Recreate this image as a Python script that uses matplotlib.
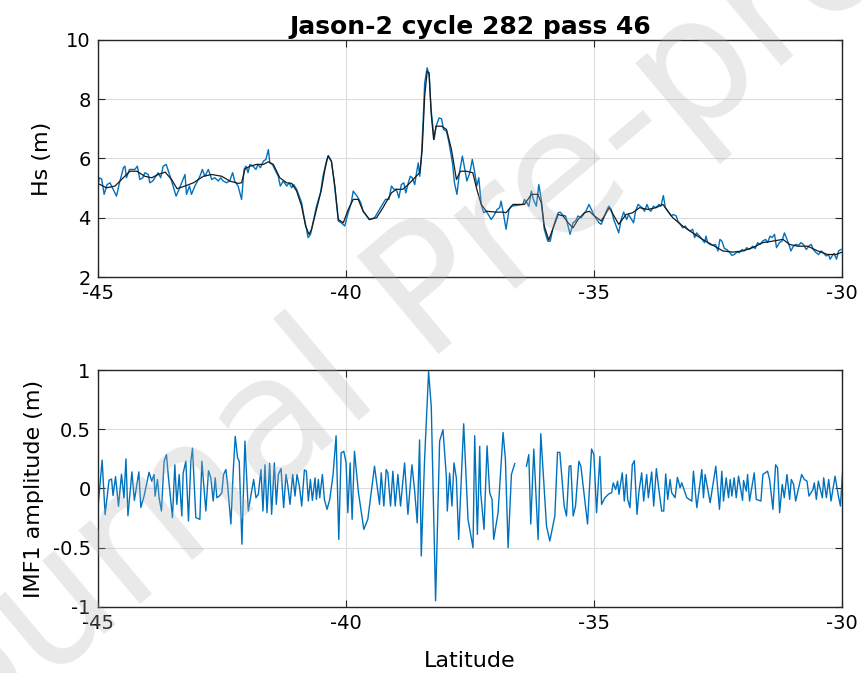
import matplotlib
matplotlib.use("Agg")
import matplotlib.pyplot as plt
import numpy as np

# Hs, raw along-track (blue)
hs_lat = [-45.00, -44.97, -44.92, -44.87, -44.81, -44.75, -44.72, -44.62, -44.56, -44.48,
          -44.45, -44.42, -44.36, -44.25, -44.20, -44.15, -44.09, -44.05, -43.98, -43.95,
          -43.89, -43.78, -43.73, -43.68, -43.62, -43.53, -43.48, -43.42, -43.36, -43.24,
          -43.21, -43.15, -43.11, -43.04, -42.94, -42.89, -42.84, -42.77, -42.70, -42.64,
          -42.57, -42.52, -42.47, -42.40, -42.34, -42.28, -42.24, -42.17, -42.10, -42.05,
          -42.01, -41.97, -41.93, -41.87, -41.81, -41.77, -41.72, -41.66, -41.61, -41.56,
          -41.53, -41.48, -41.43, -41.36, -41.32, -41.26, -41.19, -41.14, -41.09, -41.05,
          -40.99, -40.94, -40.89, -40.85, -40.79, -40.76, -40.71, -40.66, -40.59, -40.51,
          -40.46, -40.39, -40.35, -40.29, -40.24, -40.19, -40.15, -40.09, -40.02, -39.97,
          -39.89, -39.85, -39.80, -39.75, -39.70, -39.65, -39.60, -39.53, -39.42, -39.32,
          -39.26, -39.20, -39.13, -39.08, -39.03, -38.98, -38.93, -38.88, -38.83, -38.79,
          -38.74, -38.70, -38.66, -38.61, -38.58, -38.54, -38.51, -38.48, -38.44, -38.41,
          -38.36, -38.32, -38.28, -38.22, -38.18, -38.12, -38.07, -38.03, -37.97, -37.92,
          -37.85, -37.81, -37.76, -37.71, -37.65, -37.60, -37.56, -37.50, -37.45, -37.40,
          -37.36, -37.32, -37.27, -37.22, -37.17, -37.11, -37.07, -37.02, -36.95, -36.90,
          -36.87, -36.82, -36.77, -36.71, -36.66, -36.43, -36.40, -36.35, -36.31, -36.26,
          -36.22, -36.16, -36.11, -36.06, -36.00, -35.93, -35.88, -35.83, -35.77, -35.72,
          -35.68, -35.62, -35.57, -35.52, -35.48, -35.42, -35.37, -35.32, -35.26, -35.21,
          -35.16, -35.10, -35.05, -34.99, -34.92, -34.90, -34.85, -34.75, -34.70, -34.65,
          -34.60, -34.55, -34.50, -34.45, -34.40, -34.34, -34.30, -34.20, -34.16, -34.11,
          -34.03, -33.98, -33.93, -33.89, -33.85, -33.80, -33.75, -33.69, -33.65, -33.60,
          -33.56, -33.51, -33.44, -33.40, -33.34, -33.31, -33.26, -33.21, -33.16, -33.11,
          -33.06, -33.01, -32.97, -32.93, -32.87, -32.82, -32.77, -32.74, -32.71, -32.66,
          -32.60, -32.55, -32.50, -32.46, -32.42, -32.37, -32.32, -32.27, -32.22, -32.17,
          -32.12, -32.07, -32.01, -31.97, -31.92, -31.87, -31.80, -31.75, -31.70, -31.65,
          -31.60, -31.54, -31.50, -31.45, -31.41, -31.36, -31.32, -31.26, -31.21, -31.16,
          -31.11, -31.07, -31.03, -30.98, -30.93, -30.87, -30.83, -30.78, -30.72, -30.67,
          -30.62, -30.58, -30.52, -30.47, -30.42, -30.38, -30.32, -30.27, -30.24, -30.20,
          -30.16, -30.11, -30.07, -30.02]
hs_raw = [4.98, 5.35, 5.31, 4.79, 5.12, 5.18, 5.07, 4.73, 5.18, 5.69,
          5.74, 5.35, 5.63, 5.63, 5.74, 5.29, 5.35, 5.52, 5.46, 5.18,
          5.24, 5.52, 5.35, 5.74, 5.80, 5.35, 5.07, 4.73, 4.96, 5.46,
          4.79, 5.07, 4.79, 5.07, 5.40, 5.63, 5.40, 5.63, 5.29, 5.35,
          5.24, 5.35, 5.24, 5.18, 5.24, 5.52, 5.24, 5.07, 4.62, 5.63,
          5.74, 5.52, 5.80, 5.74, 5.63, 5.80, 5.69, 5.91, 5.97, 6.30,
          5.85, 5.80, 5.63, 5.40, 5.07, 5.24, 5.07, 5.18, 5.01, 5.12,
          4.96, 4.73, 4.51, 4.11, 3.61, 3.33, 3.44, 3.83, 4.39, 4.84,
          5.40, 5.91, 6.10, 5.91, 5.29, 4.51, 3.89, 3.83, 3.72, 4.06,
          4.51, 4.90, 4.79, 4.67, 4.51, 4.22, 4.11, 3.94, 4.00, 4.28,
          4.45, 4.62, 4.62, 5.07, 4.96, 4.96, 4.67, 5.12, 5.18, 4.84,
          5.18, 5.40, 5.35, 5.12, 5.46, 5.85, 5.40, 5.91, 7.31, 8.55,
          9.06, 8.78, 7.65, 6.64, 7.09, 7.37, 7.34, 6.98, 6.92, 6.53,
          5.85, 5.18, 4.79, 5.52, 6.08, 5.63, 5.24, 5.52, 5.97, 5.52,
          5.07, 5.35, 4.45, 4.17, 4.22, 4.06, 3.94, 4.06, 4.28, 4.34,
          4.56, 4.11, 3.61, 4.28, 4.39, 4.45, 4.62, 4.51, 4.39, 4.90,
          4.62, 4.39, 5.12, 4.62, 3.61, 3.21, 3.21, 3.61, 3.94, 4.17,
          4.19, 4.08, 4.06, 3.72, 3.44, 3.83, 3.89, 4.06, 4.00, 4.11,
          4.22, 4.45, 4.28, 4.06, 3.89, 3.83, 3.78, 4.22, 4.39, 4.28,
          3.94, 3.72, 3.49, 3.94, 4.19, 3.94, 4.11, 3.83, 4.22, 4.45,
          4.34, 4.22, 4.45, 4.28, 4.22, 4.39, 4.34, 4.45, 4.39, 4.75,
          4.34, 4.22, 4.06, 4.11, 4.06, 3.89, 3.78, 3.66, 3.72, 3.61,
          3.55, 3.61, 3.33, 3.49, 3.38, 3.27, 3.16, 3.38, 3.16, 3.10,
          3.07, 3.10, 2.88, 3.27, 3.21, 2.96, 2.93, 2.84, 2.73, 2.76,
          2.84, 2.82, 2.93, 2.88, 2.99, 2.93, 3.04, 2.96, 3.16, 3.10,
          3.21, 3.27, 3.16, 3.38, 3.33, 3.44, 2.99, 3.16, 3.21, 3.49,
          3.27, 3.10, 2.88, 3.04, 3.10, 3.07, 3.16, 3.10, 2.93, 3.04,
          3.10, 2.93, 2.82, 2.76, 2.88, 2.82, 2.71, 2.76, 2.60, 2.71,
          2.80, 2.60, 2.88, 2.93]

# Hs, denoised (black)
sm_lat = [-45.00, -44.82, -44.65, -44.52, -44.35, -44.21, -44.05, -43.91, -43.78, -43.64,
          -43.51, -43.40, -43.24, -43.07, -42.87, -42.70, -42.50, -42.34, -42.17, -42.10,
          -42.03, -41.93, -41.80, -41.66, -41.56, -41.46, -41.33, -41.19, -41.09, -40.99,
          -40.89, -40.81, -40.74, -40.69, -40.59, -40.49, -40.42, -40.36, -40.29, -40.22,
          -40.15, -40.05, -39.95, -39.85, -39.75, -39.65, -39.52, -39.38, -39.25, -39.08,
          -38.98, -38.85, -38.74, -38.61, -38.51, -38.46, -38.41, -38.36, -38.32, -38.28,
          -38.23, -38.18, -38.07, -37.97, -37.87, -37.77, -37.69, -37.57, -37.44, -37.36,
          -37.27, -37.17, -36.97, -36.83, -36.77, -36.63, -36.40, -36.26, -36.13, -36.06,
          -36.00, -35.91, -35.83, -35.72, -35.62, -35.52, -35.42, -35.32, -35.19, -35.09,
          -34.99, -34.85, -34.69, -34.50, -34.35, -34.22, -34.08, -33.91, -33.75, -33.61,
          -33.41, -33.21, -33.01, -32.81, -32.60, -32.40, -32.20, -32.00, -31.80, -31.60,
          -31.40, -31.19, -31.06, -30.89, -30.69, -30.49, -30.29, -30.12, -30.00]
hs_smooth = [5.16, 5.01, 5.07, 5.29, 5.57, 5.57, 5.40, 5.35, 5.46, 5.54,
             5.29, 4.98, 5.07, 5.18, 5.40, 5.46, 5.40, 5.24, 5.16, 5.18,
             5.65, 5.74, 5.80, 5.80, 5.89, 5.80, 5.35, 5.18, 5.16, 4.90,
             4.39, 3.72, 3.44, 3.61, 4.28, 4.96, 5.63, 6.08, 5.91, 5.07,
             3.94, 3.83, 4.28, 4.62, 4.62, 4.22, 3.94, 4.00, 4.34, 4.84,
             4.96, 4.96, 5.12, 5.35, 5.52, 6.30, 8.10, 8.94, 8.89, 7.54,
             6.64, 7.09, 7.09, 6.98, 6.30, 5.29, 5.57, 5.57, 5.52, 4.96,
             4.45, 4.22, 4.19, 4.19, 4.17, 4.45, 4.45, 4.79, 4.79, 4.51,
             3.72, 3.25, 3.61, 4.11, 4.06, 3.83, 3.66, 3.94, 4.17, 4.22,
             4.06, 3.89, 4.34, 3.78, 4.11, 4.17, 4.34, 4.28, 4.34, 4.45,
             4.00, 3.72, 3.49, 3.27, 3.07, 2.88, 2.84, 2.88, 2.99, 3.16,
             3.21, 3.27, 3.10, 3.04, 3.04, 2.88, 2.76, 2.76, 2.84]

# first intrinsic mode function (turning points), nan = data gap
imf_lat = [-45.000, -44.910, -44.850, -44.770, -44.720, -44.690, -44.640, -44.580, -44.520, -44.470,
           -44.430, -44.390, -44.310, -44.260, -44.170, -44.130, -44.065, -43.964, -43.910, -43.863,
           -43.843, -43.795, -43.762, -43.715, -43.661, -43.614, -43.573, -43.546, -43.493, -43.445,
           -43.405, -43.358, -43.304, -43.277, -43.223, -43.170, -43.122, -43.089, -43.022, -42.941,
           -42.900, -42.873, -42.820, -42.766, -42.719, -42.672, -42.631, -42.598, -42.550, -42.497,
           -42.463, -42.416, -42.382, -42.315, -42.268, -42.228, -42.180, -42.147, -42.093, -42.032,
           -41.965, -41.857, -41.810, -41.763, -41.709, -41.669, -41.628, -41.588, -41.534, -41.494,
           -41.440, -41.400, -41.359, -41.305, -41.252, -41.205, -41.171, -41.124, -41.070, -41.023,
           -40.983, -40.935, -40.888, -40.834, -40.794, -40.754, -40.713, -40.673, -40.619, -40.592,
           -40.552, -40.525, -40.471, -40.431, -40.377, -40.323, -40.256, -40.195, -40.141, -40.094,
           -40.040, -39.993, -39.959, -39.912, -39.872, -39.825, -39.744, -39.636, -39.556, -39.421,
           -39.320, -39.286, -39.233, -39.185, -39.152, -39.098, -39.051, -39.004, -38.950, -38.896,
           -38.815, -38.748, -38.667, -38.614, -38.560, -38.513, -38.479, -38.412, -38.331, -38.277,
           -38.190, -38.109, -38.041, -37.974, -37.954, -37.907, -37.860, -37.820, -37.772, -37.725,
           -37.624, -37.537, -37.436, -37.402, -37.348, -37.301, -37.281, -37.214, -37.153, -37.100,
           -37.052, -37.019, -36.931, -36.830, -36.783, -36.729, -36.662, -36.595, -36.480, -36.359,
           -36.312, -36.272, -36.211, -36.124, -36.070, -35.955, -35.888, -35.787, -35.733, -35.686,
           -35.599, -35.552, -35.498, -35.464, -35.417, -35.370, -35.303, -35.262, -35.128, -35.047,
           -35.000, -34.946, -34.879, -34.845, -34.778, -34.697, -34.643, -34.610, -34.562, -34.522,
           -34.495, -34.428, -34.387, -34.347, -34.320, -34.273, -34.226, -34.185, -34.131, -34.091,
           -34.037, -33.997, -33.936, -33.903, -33.835, -33.795, -33.741, -33.687, -33.634, -33.593,
           -33.553, -33.512, -33.465, -33.432, -33.364, -33.317, -33.263, -33.229, -33.128, -33.027,
           -32.994, -32.926, -32.825, -32.792, -32.758, -32.657, -32.543, -32.469, -32.422, -32.388,
           -32.334, -32.287, -32.253, -32.220, -32.173, -32.132, -32.085, -32.004, -31.984, -31.930,
           -31.903, -31.863, -31.769, -31.728, -31.634, -31.594, -31.500, -31.459, -31.392, -31.338,
           -31.298, -31.257, -31.204, -31.163, -31.109, -31.055, -31.022, -30.975, -30.934, -30.813,
           -30.759, -30.706, -30.665, -30.584, -30.558, -30.517, -30.477, -30.396, -30.369, -30.315,
           -30.268, -30.221, -30.140, -30.073, -30.032, -29.985]
imf_val = [-0.19, 0.24, -0.22, 0.07, 0.08, -0.06, 0.10, -0.15, 0.12, -0.08,
           0.25, -0.23, 0.14, -0.10, 0.14, -0.16, -0.064, 0.137, 0.062, 0.118,
           -0.064, 0.076, -0.078, -0.19, 0.23, 0.286, 0.09, -0.02, -0.246, 0.20,
           -0.134, 0.118, -0.232, 0.13, 0.23, -0.275, 0.23, 0.34, -0.246, -0.26,
           0.23, 0.09, -0.19, 0.15, 0.09, -0.106, 0.09, -0.078, -0.064, -0.036,
           0.118, 0.16, 0.034, -0.30, 0.146, 0.44, 0.258, 0.23, -0.47, 0.40,
           -0.19, 0.076, -0.078, -0.05, 0.16, -0.19, 0.20, -0.204, 0.213, -0.218,
           0.216, -0.134, 0.118, 0.168, -0.162, 0.118, 0.034, -0.134, 0.118, -0.064,
           0.118, 0.02, -0.148, 0.157, 0.146, -0.106, 0.076, -0.10, 0.09, -0.092,
           0.076, -0.078, 0.118, -0.092, -0.176, -0.092, 0.118, 0.445, -0.43, 0.30,
           0.314, 0.216, -0.204, 0.216, -0.26, 0.314, -0.036, -0.345, -0.26, 0.188,
           -0.134, 0.132, -0.148, 0.16, 0.132, -0.148, 0.146, -0.148, 0.118, -0.148,
           0.216, -0.218, 0.20, -0.01, -0.29, 0.41, -0.57, 0.244, 0.986, 0.69,
           -0.947, 0.40, 0.496, 0.104, -0.19, 0.13, -0.148, 0.216, 0.09, -0.43,
           0.546, -0.26, -0.50, 0.445, -0.387, 0.356, -0.036, -0.345, 0.36, -0.036,
           -0.092, -0.43, -0.204, 0.473, 0.244, -0.50, 0.118, 0.21, np.nan, 0.188,
           0.286, -0.30, 0.333, -0.43, 0.462, -0.317, -0.443, -0.232, 0.305, 0.305,
           -0.148, -0.232, 0.188, 0.193, -0.232, -0.148, 0.23, 0.188, -0.30, 0.333,
           0.286, -0.204, 0.27, -0.134, -0.078, -0.045, -0.036, 0.048, -0.008, 0.062,
           -0.05, 0.132, -0.106, 0.118, -0.092, -0.162, 0.20, 0.235, -0.218, -0.022,
           0.132, -0.106, 0.118, -0.078, 0.14, -0.148, 0.168, -0.022, -0.19, -0.19,
           0.123, -0.092, 0.076, -0.036, -0.078, 0.095, 0.006, 0.048, -0.078, -0.106,
           0.146, -0.162, 0.16, -0.078, 0.118, -0.12, 0.188, -0.176, 0.146, -0.106,
           0.09, -0.078, 0.076, -0.064, 0.09, -0.078, 0.104, -0.10, 0.067, -0.022,
           0.118, -0.106, 0.132, -0.092, -0.106, 0.118, 0.146, 0.076, -0.176, 0.20,
           0.174, -0.204, 0.034, -0.078, 0.118, -0.092, 0.076, 0.034, -0.106, 0.118,
           0.076, 0.062, -0.064, -0.008, 0.048, -0.092, 0.062, -0.078, 0.09, -0.078,
           0.076, -0.106, 0.104, -0.064, -0.148, 0.16]

matlab_blue = "#0072BD"
fs = 14

plt.rcParams["font.family"] = "DejaVu Sans"
plt.rcParams["axes.unicode_minus"] = False

fig = plt.figure(figsize=(8.62, 6.73), dpi=100)
ax1 = fig.add_axes([0.1133, 0.5884, 0.8635, 0.3522])
ax2 = fig.add_axes([0.1133, 0.0981, 0.8635, 0.3521])

ax1.plot(hs_lat, hs_raw, color=matlab_blue, lw=1.0)
ax1.plot(sm_lat, hs_smooth, color="#1a1a1a", lw=0.9)
ax1.set_ylim(2, 10)
ax1.set_yticks([2, 4, 6, 8, 10])
ax1.set_ylabel("Hs (m)", fontsize=16, labelpad=10)
ax1.set_title("Jason-2 cycle 282 pass 46", fontsize=18, fontweight="bold", pad=4)

ax2.plot(imf_lat, imf_val, color=matlab_blue, lw=1.0)
ax2.set_ylim(-1, 1)
ax2.set_yticks([-1, -0.5, 0, 0.5, 1])
ax2.set_yticklabels(["-1", "-0.5", "0", "0.5", "1"])
ax2.set_ylabel("IMF1 amplitude (m)", fontsize=16, labelpad=6)
ax2.set_xlabel("Latitude", fontsize=16, labelpad=13)

for ax in (ax1, ax2):
    ax.set_xlim(-45, -30)
    ax.set_xticks([-45, -40, -35, -30])
    ax.grid(True, color="#dcdcdc", lw=0.8)
    ax.set_axisbelow(True)
    ax.tick_params(direction="in", top=True, right=True, length=5,
                   width=0.8, labelsize=fs, color="#262626", pad=5)
    for sp in ax.spines.values():
        sp.set_color("#262626")
        sp.set_linewidth(1.0)

# "Journal Pre-proof" watermark
fig.text(0.52, 0.57, "Journal Pre-proof", fontsize=125, color="#b0b0b0",
         alpha=0.28, rotation=40, ha="center", va="center", zorder=10)

fig.savefig("out.png", dpi=100)
